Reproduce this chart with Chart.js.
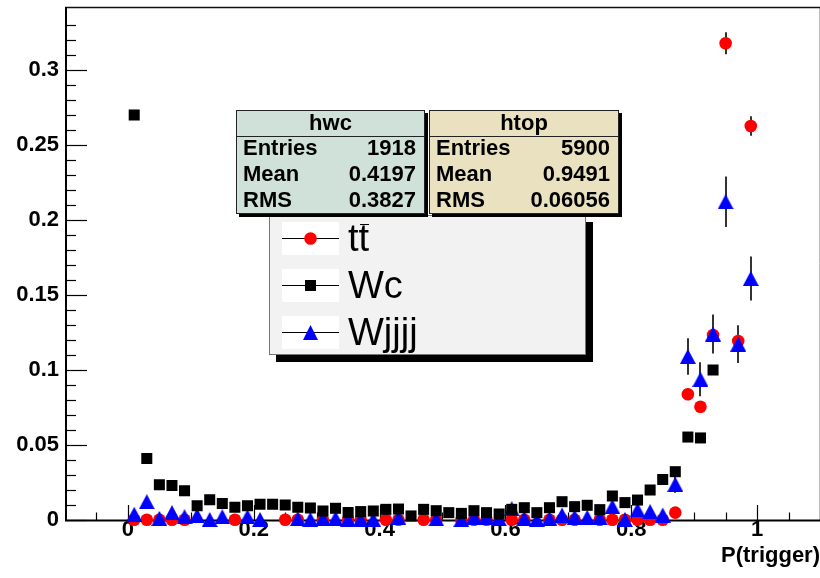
<!DOCTYPE html>
<html>
<head>
<meta charset="utf-8">
<title>P(trigger)</title>
<script src="https://cdn.jsdelivr.net/npm/chart.js@4.4.1/dist/chart.umd.min.js"></script>
<style>
  body { margin: 0; background: #fff; font-family: "Liberation Sans", Arial, sans-serif; }
  #wrap { position: relative; width: 820px; height: 578px; overflow: hidden; }
  #plot { position: absolute; left: 0; top: 0; }
  .stats { position: absolute; top: 110px; height: 104px; box-sizing: border-box; border: 1px solid #222;
           box-shadow: 3px 3px 0 #000; font-weight: bold; font-size: 22px; color: #000; }
  .stats .head { position: absolute; left: 0; right: 0; top: -1.5px; line-height: 25px; text-align: center; }
  .stats .sep { position: absolute; left: 0; right: 0; top: 24.5px; border-top: 1px solid #222; }
  .stats .row { position: absolute; left: 6px; right: 8px; line-height: 25px; display: flex; justify-content: space-between; }
  #legend { position: absolute; left: 269px; top: 215px; width: 317px; height: 140px; box-sizing: border-box;
            background: #f2f2f2; border: 1px solid #777; box-shadow: 7px 7px 0 #000; }
  .sample { position: absolute; left: 12px; width: 57px; height: 33px; background: #fff; }
  .sample svg { display: block; }
  .ltxt { position: absolute; left: 78px; font-size: 38px; line-height: 46px; color: #000; white-space: nowrap; }
  .bar { position: relative; }
  .bar::after { content: ""; position: absolute; left: 1px; right: 0; top: 7px; border-top: 1.5px solid #000; }
</style>
</head>
<body>
<div id="wrap">
  <canvas id="plot" width="820" height="578"></canvas>

  <div id="legend">
    <div class="sample" style="top:6px"><svg width="57" height="33"><line x1="0" y1="16.5" x2="57" y2="16.5" stroke="#000" stroke-width="1"/><circle cx="28.5" cy="16.5" r="6.3" fill="#ff0000"/></svg></div>
    <div class="ltxt" style="top:-1.5px">t<span class="bar">t</span></div>
    <div class="sample" style="top:53px"><svg width="57" height="33"><line x1="0" y1="16.5" x2="57" y2="16.5" stroke="#000" stroke-width="1"/><rect x="23" y="11" width="11" height="11" fill="#000"/></svg></div>
    <div class="ltxt" style="top:45.5px">Wc</div>
    <div class="sample" style="top:100px"><svg width="57" height="33"><line x1="0" y1="16.5" x2="57" y2="16.5" stroke="#000" stroke-width="1"/><polygon points="28.5,9 36,24 21,24" fill="#0000ff"/></svg></div>
    <div class="ltxt" style="top:92.5px">Wjjjj</div>
  </div>

  <div class="stats" style="left:236px; width:189px; background:#cfe1d9;">
    <div class="head">hwc</div>
    <div class="sep"></div>
    <div class="row" style="top:24px"><span>Entries</span><span>1918</span></div>
    <div class="row" style="top:49.8px"><span>Mean</span><span>0.4197</span></div>
    <div class="row" style="top:75.6px"><span>RMS</span><span>0.3827</span></div>
  </div>
  <div class="stats" style="left:429px; width:190px; background:#e9e1bf;">
    <div class="head">htop</div>
    <div class="sep"></div>
    <div class="row" style="top:24px"><span>Entries</span><span>5900</span></div>
    <div class="row" style="top:49.8px"><span>Mean</span><span>0.9491</span></div>
    <div class="row" style="top:75.6px"><span>RMS</span><span>0.06056</span></div>
  </div>
</div>

<script>
// bin centres of P(trigger), width 0.02
const bins = [
  0.01, 0.03, 0.05, 0.07, 0.09, 0.11, 0.13, 0.15, 0.17, 0.19,
  0.21, 0.23, 0.25, 0.27, 0.29, 0.31, 0.33, 0.35, 0.37, 0.39,
  0.41, 0.43, 0.45, 0.47, 0.49, 0.51, 0.53, 0.55, 0.57, 0.59,
  0.61, 0.63, 0.65, 0.67, 0.69, 0.71, 0.73, 0.75, 0.77, 0.79,
  0.81, 0.83, 0.85, 0.87, 0.89, 0.91, 0.93, 0.95, 0.97, 0.99
];

// ttbar (red circles), null = empty bin
const ttVals = [
  0.0002, 0.0002, 0.0002, 0.0002, 0.0002, null, null, null, 0.0002, null,
  null, null, 0.0002, 0.0002, null, 0.0002, null, 0.0002, 0.0002, null,
  0.0002, 0.0002, null, 0.0002, 0.0002, null, 0.0002, 0.0002, 0.0002, null,
  0.0002, 0.0002, null, 0.0002, 0.0002, 0.0002, null, 0.0002, 0.0002, 0.0002,
  0.0002, 0.0002, 0.0002, 0.0049, 0.0838, 0.0755, 0.1233, 0.3178, 0.1193, 0.2627
];

// Wc (black squares)
const wcVals = [
  0.270, 0.041, 0.0235, 0.023, 0.0195, 0.0095, 0.0135, 0.011, 0.0085, 0.0095,
  0.0105, 0.0105, 0.010, 0.0085, 0.008, 0.006, 0.0078, 0.005, 0.0056, 0.006,
  0.0071, 0.0073, 0.0027, 0.0071, 0.0062, 0.0049, 0.0044, 0.0062, 0.0049, 0.004,
  0.0071, 0.0082, 0.0049, 0.0082, 0.0122, 0.0089, 0.0098, 0.0069, 0.016, 0.0116,
  0.0133, 0.020, 0.027, 0.0322, 0.0553, 0.0547, 0.100, null, null, null
];

// Wjjjj (blue triangles)
const wjVals = [
  0.0038, 0.0122, 0.0011, 0.0049, 0.0022, 0.0029, 0.0003, 0.0022, null, 0.0022,
  0.0003, null, null, 0.0009, 0.0004, 0.0009, 0.0011, 0.0003, 0.0003, 0.0003,
  null, 0.0015, null, null, 0.0008, null, 0.0003, 0.002, 0.002, 0.0008,
  0.0075, 0.0011, 0.0003, 0.001, 0.0033, 0.002, 0.0018, 0.0016, 0.0089, 0.0003,
  0.0067, 0.0056, 0.0033, 0.0238, 0.109, 0.0938, 0.124, 0.2122, 0.1173, 0.161
];

// vertical error bars (only where they show)
const errBins = [0.87, 0.89, 0.91, 0.93, 0.95, 0.97, 0.99];
const ttErr   = [null, 0.0038, 0.0036, 0.0046, 0.0073, 0.0045, 0.0065];
const wjErr   = [0.0056, 0.0122, 0.0113, 0.013, 0.0168, 0.0126, 0.0147];

const xTicks = [0, 0.2, 0.4, 0.6, 0.8, 1];
const xLabels = ['0', '0.2', '0.4', '0.6', '0.8', '1'];
const yTicks = [0, 0.05, 0.1, 0.15, 0.2, 0.25, 0.3];
const yLabels = ['0', '0.05', '0.1', '0.15', '0.2', '0.25', '0.3'];

function toPts(vals) {
  return bins.map((b, i) => ({ x: b, y: vals[i] })).filter(p => p.y !== null);
}

// ROOT style triangle, centred on its box
const tri = document.createElement('canvas');
tri.width = 16; tri.height = 15;
const tc = tri.getContext('2d');
tc.fillStyle = '#0000ff';
tc.beginPath(); tc.moveTo(8, 0); tc.lineTo(16, 15); tc.lineTo(0, 15); tc.closePath(); tc.fill();

function noPad(s) {
  s.paddingTop = 0; s.paddingBottom = 0; s.paddingLeft = 0; s.paddingRight = 0;
}

const rootFrame = {
  id: 'rootFrame',
  beforeDatasetsDraw(chart) {
    const { ctx, chartArea: a, scales: { x, y } } = chart;
    ctx.save();
    // error bars
    ctx.strokeStyle = '#333';
    ctx.lineWidth = 2;
    [ttErr, wjErr].forEach((errs, k) => {
      const vals = k === 0 ? ttVals : wjVals;
      errBins.forEach((b, i) => {
        const e = errs[i];
        const v = vals[bins.indexOf(b)];
        if (e == null || v == null) return;
        const px = Math.round(x.getPixelForValue(b));
        ctx.beginPath();
        ctx.moveTo(px, y.getPixelForValue(v - e));
        ctx.lineTo(px, y.getPixelForValue(v + e));
        ctx.stroke();
      });
    });
    // frame
    ctx.strokeStyle = '#bbb'; ctx.lineWidth = 1;
    ctx.beginPath(); ctx.moveTo(a.right - 0.5, a.top); ctx.lineTo(a.right - 0.5, a.bottom); ctx.stroke();
    ctx.strokeStyle = '#111'; ctx.lineWidth = 1.5;
    ctx.beginPath(); ctx.moveTo(a.left, a.top + 0.5); ctx.lineTo(a.right, a.top + 0.5); ctx.stroke();
    ctx.strokeStyle = '#000'; ctx.lineWidth = 2;
    ctx.beginPath(); ctx.moveTo(a.left + 1, a.top); ctx.lineTo(a.left + 1, a.bottom + 1); ctx.stroke();
    ctx.beginPath(); ctx.moveTo(a.left, a.bottom + 0.5); ctx.lineTo(a.right, a.bottom + 0.5); ctx.stroke();
    // ticks, pointing inwards
    ctx.lineWidth = 1.2;
    for (let k = 0; k <= 33; k++) {
      const py = Math.round(y.getPixelForValue(k * 0.01)) + 0.5;
      const len = k % 5 === 0 ? 22 : 11;
      ctx.beginPath(); ctx.moveTo(a.left, py); ctx.lineTo(a.left + len, py); ctx.stroke();
    }
    for (let k = -1; k <= 21; k++) {
      const px = Math.round(x.getPixelForValue(k * 0.05)) + 0.5;
      const len = k % 4 === 0 ? 15 : 7.5;
      ctx.beginPath(); ctx.moveTo(px, a.bottom); ctx.lineTo(px, a.bottom - len); ctx.stroke();
    }
    ctx.restore();
  }
};

const labelFont = { family: '"Liberation Sans", Arial, sans-serif', size: 22, weight: 'bold', lineHeight: 1 };

new Chart(document.getElementById('plot'), {
  type: 'scatter',
  data: {
    datasets: [
      { label: 'Wc', data: toPts(wcVals), pointStyle: 'rect', pointRadius: 7.8,
        backgroundColor: '#000', borderWidth: 0, order: 0, clip: false },
      { label: 'Wjjjj', data: toPts(wjVals), pointStyle: tri, pointRadius: 7.5,
        backgroundColor: '#0000ff', borderWidth: 0, order: 1, clip: false },
      { label: 'tt', data: toPts(ttVals), pointStyle: 'circle', pointRadius: 6.3,
        backgroundColor: '#ff0000', borderWidth: 0, order: 2, clip: false }
    ]
  },
  options: {
    responsive: false,
    animation: false,
    devicePixelRatio: 1,
    layout: { autoPadding: false, padding: { top: 7, left: 0, right: 0, bottom: 0 } },
    plugins: { legend: { display: false }, tooltip: { enabled: false } },
    scales: {
      x: {
        type: 'linear', min: -0.1, max: 1.1,
        afterFit(s) { s.height = 58; noPad(s); },
        afterBuildTicks(s) { s.ticks = xTicks.map(v => ({ value: v })); },
        grid: { display: false, drawTicks: false },
        border: { display: false },
        ticks: { font: labelFont, color: '#000', padding: -1, maxRotation: 0, autoSkip: false,
                 callback: (v, i) => xLabels[i] },
        title: { display: true, text: 'P(trigger)', align: 'end', color: '#000',
                 font: { family: '"Liberation Sans", Arial, sans-serif', size: 22, weight: 'bold' },
                 padding: { top: 0, bottom: 9 } }
      },
      y: {
        min: 0, max: 0.342,
        afterFit(s) { s.width = 65; noPad(s); },
        afterBuildTicks(s) { s.ticks = yTicks.map(v => ({ value: v })); },
        grid: { display: false, drawTicks: false },
        border: { display: false },
        ticks: { font: labelFont, color: '#000', padding: 6,
                 callback: (v, i) => yLabels[i] }
      }
    }
  },
  plugins: [rootFrame]
});
</script>
</body>
</html>
